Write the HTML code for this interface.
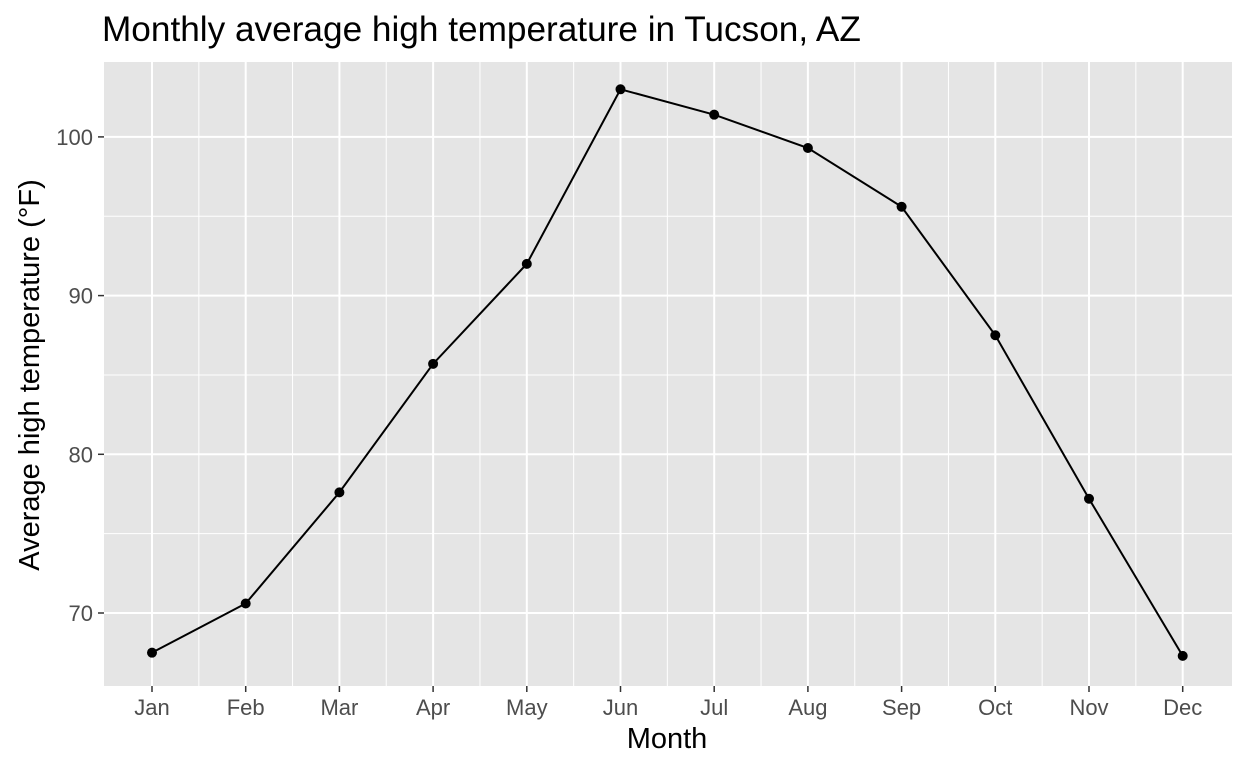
<!DOCTYPE html>
<html><head><meta charset="utf-8"><style>
body{margin:0;background:#fff;font-family:"Liberation Sans",Arial,sans-serif}
</style></head><body>
<svg id="chart" width="1248" height="768" xmlns="http://www.w3.org/2000/svg">
<text x="102" y="41" font-size="35.2" fill="#000">Monthly average high temperature in Tucson, AZ</text>
<rect x="104" y="62" width="1128" height="624" fill="#e5e5e5"/>
<g id="grid"></g><g id="series"></g><g id="axes"></g>
<text x="667" y="748" font-size="29" text-anchor="middle">Month</text>
<text transform="translate(39,375) rotate(-90)" font-size="29" text-anchor="middle">Average high temperature (°F)</text>
</svg>
<script>
const months=["Jan","Feb","Mar","Apr","May","Jun","Jul","Aug","Sep","Oct","Nov","Dec"];
const temps=[67.5,70.6,77.6,85.7,92.0,103.0,101.4,99.3,95.6,87.5,77.2,67.3];
const yTicks=[70,80,90,100];
const yMinor=[75,85,95];
const NS="http://www.w3.org/2000/svg";
const x0=152,step=93.7;
function xs(i){return x0+i*step;}
function ys(v){return 613-(v-70)*15.87;}
function mk(t,a,p){const e=document.createElementNS(NS,t);for(const k in a)e.setAttribute(k,a[k]);p.appendChild(e);return e;}
const grid=document.getElementById('grid'),axes=document.getElementById('axes'),ser=document.getElementById('series');
yMinor.forEach(v=>{const l=mk('line',{x1:104,x2:1232,y1:ys(v),y2:ys(v),stroke:'#fff','stroke-width':1},grid);
});
for(let i=0;i<months.length-1;i++){const l=mk('line',{x1:xs(i+0.5),x2:xs(i+0.5),y1:62,y2:686,stroke:'#fff','stroke-width':1},grid);
}
yTicks.forEach(v=>{const l=mk('line',{x1:104,x2:1232,y1:ys(v),y2:ys(v),stroke:'#fff','stroke-width':2},grid);

const tk=mk('line',{x1:98,x2:104,y1:ys(v),y2:ys(v),stroke:'#333','stroke-width':1.5},axes);

const t=mk('text',{x:93,y:ys(v)+8,'font-size':22,'text-anchor':'end',fill:'#4d4d4d'},axes);t.textContent=v;
});
months.forEach((m,i)=>{const l=mk('line',{x1:xs(i),x2:xs(i),y1:62,y2:686,stroke:'#fff','stroke-width':2},grid);

const tk=mk('line',{x1:xs(i),x2:xs(i),y1:686,y2:692,stroke:'#333','stroke-width':1.5},axes);

const t=mk('text',{x:xs(i),y:715,'font-size':22,'text-anchor':'middle',fill:'#4d4d4d'},axes);t.textContent=m;
});
const line=mk('polyline',{points:temps.map((v,i)=>xs(i)+','+ys(v)).join(' '),fill:'none',stroke:'#000','stroke-width':2},ser);

temps.forEach((v,i)=>{const c=mk('circle',{cx:xs(i),cy:ys(v),r:5,fill:'#000'},ser);
});
</script>
</body></html>
